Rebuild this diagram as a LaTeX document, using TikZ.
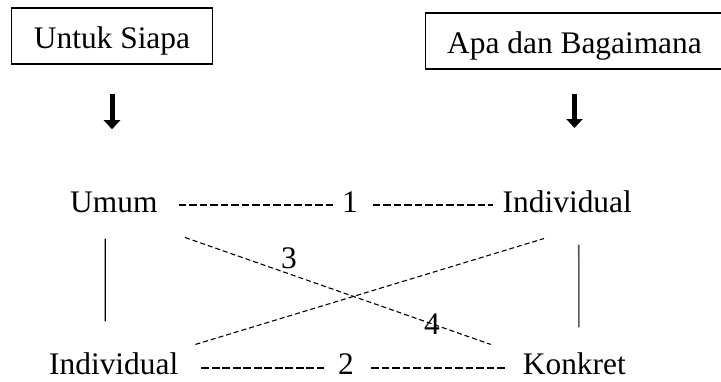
\documentclass[tikz,border=0pt]{standalone}
\usepackage{fontspec}
\setmainfont{Liberation Serif}
\usepackage{tikz}
\usetikzlibrary{arrows.meta}

\begin{document}
\begin{tikzpicture}[
    x=1pt, y=-1pt,
    font=\fontsize{31.4}{36}\selectfont,
    box/.style={rectangle, draw, line width=1.1pt, inner xsep=22pt, inner ysep=0pt,
                text height=40pt, text depth=16pt, anchor=base},
    lbl/.style={inner sep=0pt, anchor=base},
    arr/.style={-{Triangle[width=16pt, length=9pt]}, line width=5pt},
    hyph/.style={line width=2pt, dash pattern=on 7.7pt off 2.8pt},
    cross/.style={line width=1.1pt, dash pattern=on 5pt off 3pt},
    side/.style={line width=1.2pt}
]
\useasboundingbox (0,0) rectangle (721,381);

\node[box] (us) at (112,48)  {Untuk Siapa};
\node[box] (ab) at (574.5,53) {Apa dan Bagaimana};

\node[lbl, anchor=base west] (um)  at (70,212)  {Umum};
\node[lbl]                   (n1)  at (350,212) {1};
\node[lbl, anchor=base east] (in1) at (632,212) {Individual};
\node[lbl, anchor=base west] (in2) at (49,374.5)  {Individual};
\node[lbl]                   (n2)  at (346,374.5) {2};
\node[lbl, anchor=base east] (ko)  at (626,374.5) {Konkret};
\node[lbl] (n3) at (289,268) {3};
\node[lbl] (n4) at (432,334) {4};

\draw[arr, shorten <=29pt, shorten >=62pt] (us.south) -- (us.south |- um.north);
\draw[arr, shorten <=24pt, shorten >=62pt] (ab.south) -- (ab.south |- in1.north);

\draw[hyph, shorten <=21pt, shorten >=9pt] ([yshift=7pt]um.base east) -- ([yshift=7pt]n1.base west);
\draw[hyph, shorten <=14.5pt, shorten >=10pt] ([yshift=7pt]n1.base east) -- ([yshift=7pt]in1.base west);
\draw[hyph, shorten <=23pt, shorten >=14pt] ([yshift=7pt]in2.base east) -- ([yshift=7pt]n2.base west);
\draw[hyph, shorten <=17pt, shorten >=17pt] ([yshift=7pt]n2.base east) -- ([yshift=7pt]ko.base west);

\draw[side, shorten <=26pt, shorten >=31.1pt] ([xshift=-8.5pt]um.south) -- ([xshift=-8.5pt]in2.north);
\draw[side, black!65, line width=1.6pt, shorten <=32pt, shorten >=25.1pt]
    ([xshift=11.5pt]in1.south) -- ([xshift=4.5pt]ko.north);

\draw[cross] ([shift={(27.5pt,-25pt)}]um.south east) -- ([shift={(-32pt,8.1pt)}]ko.north west);
\draw[cross] ([shift={(17pt,8.1pt)}]in2.north east) -- ([shift={(41.5pt,-26pt)}]in1.south west);
\end{tikzpicture}
\end{document}
